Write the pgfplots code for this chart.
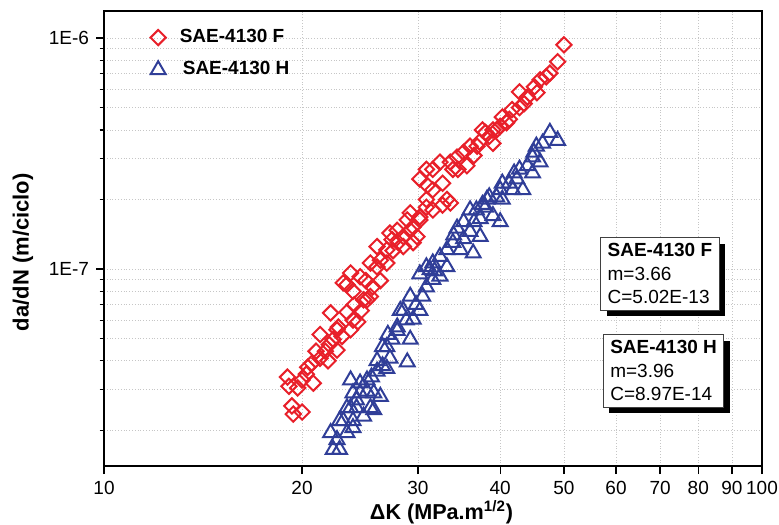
\documentclass[border=0pt]{standalone}
\usepackage{fontspec}
\setmainfont{Liberation Sans}
\usepackage{pgfplots}
\pgfplotsset{compat=1.18}
\usetikzlibrary{shadows}
\definecolor{rd}{RGB}{232,32,42}
\definecolor{bl}{RGB}{48,62,152}
\begin{document}
\begin{tikzpicture}
\begin{axis}[
  scale only axis, width=329pt, height=227.5pt,
  xmode=log, ymode=log,
  xmin=10, xmax=100, ymin=1.4e-8, ymax=1.31e-6,
  xtick={10,20,30,40,50,60,70,80,90,100},
  xticklabels={10,20,30,40,50,60,70,80,90,100},
  minor xtick={},
  ytick={1e-7,1e-6},
  yticklabels={1E-7,1E-6},
  minor ytick={2e-8,3e-8,4e-8,5e-8,6e-8,7e-8,8e-8,9e-8,2e-7,3e-7,4e-7,5e-7,6e-7,7e-7,8e-7,9e-7},
  tick align=outside, xtick pos=bottom, ytick pos=left,
  major tick length=4pt, minor tick length=2.2pt,
  every tick/.style={black, line width=0.6pt},
  axis line style={line width=0.7pt},
  xmajorgrids, ymajorgrids, yminorgrids,
  grid style={densely dotted, gray!45, line width=0.4pt},
  minor grid style={densely dotted, gray!45, line width=0.4pt},
  tick label style={font=\fontsize{9.5}{11}\selectfont},
  xlabel={\textbf{ΔK (MPa.m\textsuperscript{1/2})}},
  ylabel={\textbf{da/dN (m/ciclo)}},
  xlabel style={at={(rel axis cs:0.513,0)}, anchor=base, yshift=-26.5pt, font=\fontsize{10.8}{13}\selectfont},
  ylabel style={at={(rel axis cs:0,0.47)}, anchor=center, yshift=40.5pt, font=\fontsize{11}{13}\selectfont},
  legend style={at={(0.061,0.978)}, anchor=north west, draw=none, fill=none,
    font=\fontsize{9.5}{11}\selectfont\bfseries, row sep=4pt},
  legend cell align=left,
]
\addplot[only marks, mark=square, mark size=2.7pt, mark options={rotate=45, draw=rd, line width=1pt}, draw=rd] coordinates {
(19.0,3.4e-8)(19.1,3.1e-8)(19.3,2.55e-8)(19.4,2.35e-8)(20.0,2.4e-8)(19.7,3.05e-8)(20.0,3.3e-8)(20.4,3.75e-8)(20.7,3.9e-8)(20.8,3.2e-8)(21.3,4.1e-8)(21.7,4.4e-8)(21.9,4.0e-8)(22.3,4.95e-8)(22.6,4.45e-8)(22.7,5.6e-8)(22.1,6.45e-8)(21.3,5.2e-8)(23.0,5.1e-8)(23.4,6.5e-8)(23.9,6.0e-8)(24.3,5.9e-8)(23.4,8.55e-8)(23.9,8.0e-8)(24.5,9.25e-8)(25.1,7.35e-8)(25.6,8.35e-8)(26.3,8.9e-8)(26.0,1.02e-7)(26.9,1.06e-7)(23.1,8.7e-8)(23.7,9.6e-8)(25.4,1.06e-7)(26.3,1.09e-7)(26.0,1.25e-7)(26.9,1.21e-7)(27.4,1.34e-7)(27.2,1.43e-7)(27.9,1.47e-7)(28.9,1.63e-7)(29.5,1.52e-7)(29.2,1.75e-7)(30.2,1.68e-7)(30.9,1.85e-7)(31.6,1.8e-7)(32.7,1.89e-7)(33.6,1.93e-7)(28.5,1.25e-7)(29.5,1.3e-7)(22.6,5.45e-8)(23.7,5.45e-8)(24.8,7.35e-8)(25.4,7.6e-8)(30.2,2.45e-7)(30.9,2.7e-7)(31.6,2.7e-7)(32.4,2.9e-7)(33.6,2.9e-7)(33.9,2.7e-7)(32.7,2.35e-7)(31.6,2.2e-7)(33.2,2.0e-7)(34.4,3.05e-7)(35.2,3.2e-7)(35.6,2.8e-7)(36.0,3.4e-7)(37.2,3.55e-7)(37.6,4.0e-7)(38.5,3.75e-7)(39.5,4.0e-7)(40.9,4.3e-7)(41.3,4.45e-7)(30.2,1.63e-7)(29.2,1.47e-7)(30.9,2.0e-7)(28.5,1.38e-7)(29.9,1.38e-7)(50.0,9.35e-7)(48.9,7.9e-7)(47.6,7.05e-7)(46.0,6.6e-7)(45.1,6.15e-7)(44.0,5.55e-7)(42.8,5.85e-7)(42.8,5.0e-7)(41.7,4.9e-7)(40.3,4.55e-7)(40.0,4.15e-7)(39.0,4.0e-7)(36.9,3.4e-7)(39.0,3.5e-7)
(24.0,7.0e-8)(24.6,6.6e-8)(22.0,4.7e-8)(21.0,4.4e-8)(20.3,3.5e-8)(25.0,8.9e-8)(27.5,1.2e-7)(28.0,1.3e-7)(31.0,2.3e-7)(34.5,2.7e-7)(36.5,3.1e-7)(43.5,5.2e-7)(45.5,5.8e-7)(47.0,6.8e-7)(38.0,3.9e-7)
};
\addlegendentry{\hspace{5pt}SAE-4130 F}
\addplot[only marks, mark=triangle, mark size=4.3pt, mark options={draw=bl, line width=1pt}, draw=bl] coordinates {
(22.1,1.95e-8)(22.3,1.65e-8)(22.6,1.82e-8)(22.8,1.65e-8)(23.1,2.2e-8)(23.4,1.95e-8)(23.7,2.5e-8)(23.9,2.05e-8)(24.2,2.5e-8)(24.5,2.9e-8)(24.8,2.3e-8)(25.1,2.95e-8)(25.4,2.5e-8)(26.3,2.8e-8)(23.7,3.3e-8)(24.5,3.2e-8)(26.0,4.0e-8)(26.5,3.8e-8)(26.9,4.6e-8)(27.4,4.95e-8)(27.9,5.6e-8)(28.2,6.6e-8)(22.8,2.2e-8)(23.9,2.2e-8)(23.4,2.5e-8)(25.7,2.45e-8)(23.9,2.9e-8)(25.1,3.3e-8)(25.7,2.9e-8)(26.9,3.7e-8)(26.0,3.6e-8)(27.2,4.1e-8)(26.5,4.6e-8)(28.9,3.95e-8)(27.9,5.4e-8)(29.2,4.95e-8)(28.5,6.6e-8)(29.5,6.05e-8)(30.2,6.6e-8)(29.2,7.6e-8)(30.5,7.6e-8)(30.9,8.35e-8)(30.2,9.5e-8)(31.3,9.9e-8)(31.6,9.0e-8)(47.6,3.9e-7)(48.9,3.6e-7)(46.4,3.5e-7)(45.4,3.4e-7)(44.8,3.05e-7)(46.0,2.9e-7)(44.0,2.8e-7)(42.8,2.7e-7)(44.8,2.6e-7)(42.4,2.45e-7)(41.3,2.35e-7)(40.3,2.35e-7)(40.0,2.2e-7)(41.8,2.2e-7)(43.3,2.2e-7)(39.5,2.05e-7)(38.5,2.05e-7)(38.2,2.0e-7)(40.3,2.0e-7)(37.6,1.9e-7)(36.8,1.8e-7)(39.0,1.7e-7)(36.0,1.8e-7)(40.0,1.6e-7)(37.3,1.65e-7)(35.2,1.6e-7)(34.4,1.5e-7)(36.0,1.45e-7)(37.3,1.38e-7)(35.2,1.35e-7)(33.9,1.3e-7)(33.2,1.21e-7)(34.8,1.21e-7)(36.4,1.17e-7)(32.4,1.13e-7)(31.6,1.06e-7)(30.9,1.02e-7)(33.2,1.02e-7)(32.4,9.3e-8)
(27.0,5.2e-8)(28.8,6.0e-8)(29.8,7.0e-8)(31.8,9.8e-8)(34.0,1.4e-7)(36.5,1.6e-7)(38.0,1.85e-7)(42.0,2.6e-7)(45.0,3.2e-7)(24.2,2.7e-8)(25.5,3.4e-8)
};
\addlegendentry{\hspace{6.5pt}SAE-4130 H}
\node[anchor=north west, draw=black!75, line width=0.5pt, fill=white, inner xsep=3.5pt, inner ysep=3pt,
  align=left, font=\fontsize{9.5}{11.75}\selectfont,
  drop shadow={shadow xshift=3pt, shadow yshift=-3pt, fill=black, opacity=1}]
  at (rel axis cs:0.754,0.503) {\textbf{SAE-4130 F}\\m=3.66\\C=5.02E-13};
\node[anchor=north west, draw=black!75, line width=0.5pt, fill=white, inner xsep=3.5pt, inner ysep=3pt,
  align=left, font=\fontsize{9.5}{11.75}\selectfont,
  drop shadow={shadow xshift=3pt, shadow yshift=-3pt, fill=black, opacity=1}]
  at (rel axis cs:0.758,0.290) {\textbf{SAE-4130 H}\\m=3.96\\C=8.97E-14};
\end{axis}
\pgfresetboundingbox
\path[use as bounding box] ([shift={(-52pt,-29pt)}]current axis.south west) rectangle ([shift={(8.5pt,5.5pt)}]current axis.north east);
\end{tikzpicture}
\end{document}
